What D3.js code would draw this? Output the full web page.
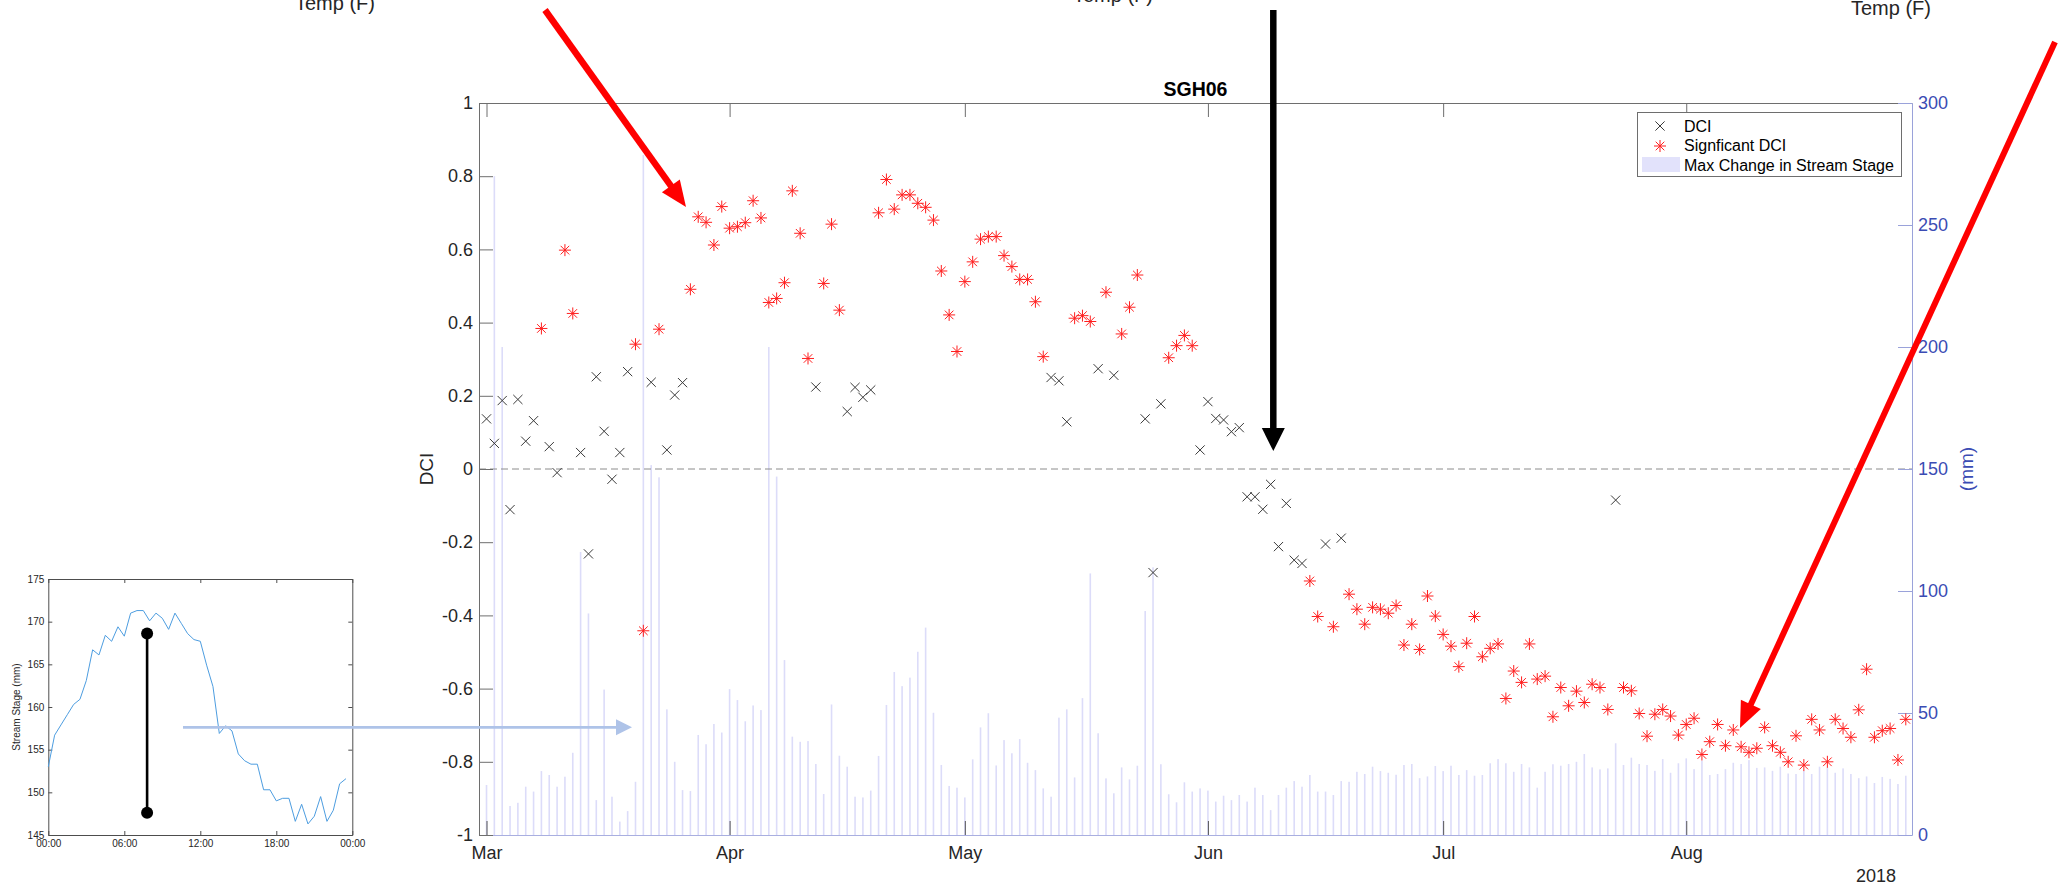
<!DOCTYPE html>
<html>
<head>
<meta charset="utf-8">
<script src="https://cdn.jsdelivr.net/npm/d3@7"></script>
<style>
  body { margin: 0; background: #fff; overflow: hidden; }
</style>
</head>
<body>
<script>
// ---- data ----
const startDate = '2018-03-01';

// daily DCI value, Mar 1 .. Aug 29
const dciValues = [
  0.137, 0.070, 0.187, -0.111, 0.190, 0.076, 0.132, 0.384, 0.061, -0.010,
  0.598, 0.425, 0.045, -0.232, 0.252, 0.103, -0.028, 0.045, 0.266, 0.341,
  -0.442, 0.237, 0.382, 0.052, 0.202, 0.236, 0.491, 0.689, 0.674, 0.612,
  0.717, 0.658, 0.662, 0.673, 0.733, 0.686, 0.455, 0.466, 0.509, 0.760,
  0.644, 0.302, 0.224, 0.507, 0.669, 0.434, 0.157, 0.223, 0.196, 0.216,
  0.700, 0.791, 0.710, 0.749, 0.749, 0.726, 0.715, 0.680, 0.541, 0.421,
  0.321, 0.512, 0.566, 0.628, 0.635, 0.635, 0.583, 0.553, 0.518, 0.518,
  0.457, 0.307, 0.250, 0.241, 0.129, 0.412, 0.419, 0.403, 0.274, 0.483,
  0.256, 0.369, 0.442, 0.530, 0.137, -0.283, 0.178, 0.304, 0.337, 0.365,
  0.337, 0.052, 0.184, 0.138, 0.134, 0.102, 0.113, -0.076, -0.076, -0.110,
  -0.042, -0.212, -0.094, -0.249, -0.258, -0.306, -0.403, -0.205, -0.431, -0.189,
  -0.342, -0.383, -0.424, -0.378, -0.383, -0.394, -0.373, -0.481, -0.424, -0.493,
  -0.347, -0.402, -0.452, -0.484, -0.540, -0.476, -0.403, -0.513, -0.490, -0.478,
  -0.627, -0.552, -0.583, -0.478, -0.574, -0.566, -0.677, -0.597, -0.647, -0.607,
  -0.638, -0.588, -0.597, -0.657, -0.085, -0.597, -0.606, -0.668, -0.730, -0.670,
  -0.657, -0.675, -0.727, -0.698, -0.681, -0.780, -0.745, -0.698, -0.756, -0.713,
  -0.759, -0.774, -0.763, -0.706, -0.756, -0.774, -0.800, -0.729, -0.809, -0.684,
  -0.713, -0.800, -0.684, -0.709, -0.733, -0.658, -0.547, -0.733, -0.715, -0.709,
  -0.795, -0.684
];

// 1 = significant DCI
const dciSignificant = [
  0, 0, 0, 0, 0, 0, 0, 1, 0, 0,
  1, 1, 0, 0, 0, 0, 0, 0, 0, 1,
  1, 0, 1, 0, 0, 0, 1, 1, 1, 1,
  1, 1, 1, 1, 1, 1, 1, 1, 1, 1,
  1, 1, 0, 1, 1, 1, 0, 0, 0, 0,
  1, 1, 1, 1, 1, 1, 1, 1, 1, 1,
  1, 1, 1, 1, 1, 1, 1, 1, 1, 1,
  1, 1, 0, 0, 0, 1, 1, 1, 0, 1,
  0, 1, 1, 1, 0, 0, 0, 1, 1, 1,
  1, 0, 0, 0, 0, 0, 0, 0, 0, 0,
  0, 0, 0, 0, 0, 1, 1, 0, 1, 0,
  1, 1, 1, 1, 1, 1, 1, 1, 1, 1,
  1, 1, 1, 1, 1, 1, 1, 1, 1, 1,
  1, 1, 1, 1, 1, 1, 1, 1, 1, 1,
  1, 1, 1, 1, 0, 1, 1, 1, 1, 1,
  1, 1, 1, 1, 1, 1, 1, 1, 1, 1,
  1, 1, 1, 1, 1, 1, 1, 1, 1, 1,
  1, 1, 1, 1, 1, 1, 1, 1, 1, 1,
  1, 1
];

// daily max change in stream stage (mm)
const stageChange = [
  20.5, 270, 200, 11.9, 13.2, 19.8, 17.8, 26.2, 24.6, 19.8,
  23.9, 33.7, 116, 90.8, 14.3, 59.6, 15.7, 5.5, 9.8, 21.8,
  278.7, 151.6, 146.6, 51.5, 30, 18.4, 18, 41, 37.2, 45.5,
  42, 59.8, 55.3, 46.6, 53.1, 51.2, 200, 146.9, 71.7, 40.3,
  38.2, 38.5, 29.1, 16.8, 53.5, 32.5, 28, 15.7, 15.4, 18.2,
  32.4, 53.3, 66.8, 61, 64.5, 75.1, 85, 50.1, 28.7, 20.1,
  19.4, 15.4, 31, 44.1, 49.9, 28.5, 38.9, 33.5, 39.3, 29.6,
  26.6, 19.1, 15.7, 48.1, 51.5, 23.6, 56.1, 107.2, 41.7, 23.2,
  17.1, 27.7, 22.8, 28.4, 91.8, 109.7, 29, 16.7, 13.4, 21.6,
  17.8, 19.1, 18.2, 13.7, 16.1, 14.3, 16.4, 13.7, 19.4, 16.4,
  10.2, 16.4, 19.4, 22.1, 19.8, 24.6, 17.8, 17.8, 16.4, 22.1,
  21.8, 25.9, 25, 28, 26.2, 25.5, 24.7, 28.7, 29.1, 23.3,
  24, 28.3, 26.2, 28.4, 24.6, 26.6, 24.3, 24.6, 29.4, 31.1,
  29.4, 25.9, 29.1, 27.7, 19.4, 25.9, 29, 28.4, 29.1, 30,
  33.2, 27.7, 26.9, 27.3, 37.6, 28.7, 31.7, 29.1, 28.7, 26.3,
  31.1, 25.5, 29.4, 31.4, 27, 30.5, 24.6, 25, 27, 29.6,
  29.1, 30.7, 27.5, 27.7, 26.3, 28, 25.2, 25, 26.3, 25,
  28, 27.7, 25.5, 27.3, 25, 23.3, 24, 21.3, 23.8, 23,
  20.9, 24.3
];

const dciTicks = [-1, -0.8, -0.6, -0.4, -0.2, 0, 0.2, 0.4, 0.6, 0.8, 1];
const mmTicks = [0, 50, 100, 150, 200, 250, 300];
const monthTicks = ['2018-03-01', '2018-04-01', '2018-05-01', '2018-06-01', '2018-07-01', '2018-08-01'];
const legendLabels = ['DCI', 'Signficant DCI', 'Max Change in Stream Stage'];

// inset: one day of stream stage, every 30 min
const insetHours = [
  0, 0.5, 1, 1.5, 2, 2.5, 3, 3.5, 4, 4.5, 5, 5.5, 6, 6.5, 7, 7.5, 8, 8.5, 9, 9.5,
  10, 10.5, 11, 11.5, 12, 12.5, 13, 13.5, 14, 14.5, 15, 15.5, 16, 16.5, 17, 17.5,
  18, 18.5, 19, 19.5, 20, 20.5, 21, 21.5, 22, 22.5, 23, 23.5
];
const insetStage = [
  153.0, 156.7, 157.9, 159.1, 160.3, 160.9, 163.1, 166.7, 166.1, 168.4,
  167.7, 169.4, 168.3, 171.0, 171.3, 171.3, 170.1, 171.0, 170.4, 169.1,
  171.0, 169.8, 168.6, 167.9, 167.7, 164.9, 162.4, 156.9, 157.8, 157.2,
  154.5, 153.7, 153.3, 153.3, 150.3, 150.3, 149.0, 149.3, 149.3, 146.6,
  148.6, 146.3, 147.2, 149.5, 146.6, 147.9, 151.0, 151.6
];
const insetYTicks = [145, 150, 155, 160, 165, 170, 175];
const insetXTicks = [0, 6, 12, 18, 24];
const rangeMark = { hour: 7.8, low: 147.6, high: 168.6 };

// ---- drawing ----
const FONT = '"Liberation Sans", Arial, Helvetica, sans-serif';
const svg = d3.select('body').append('svg')
  .attr('width', 2067)
  .attr('height', 887)
  .attr('font-family', FONT);

const box = { left: 479, right: 1912, top: 103, bottom: 835 };

const start = d3.utcParse('%Y-%m-%d')(startDate);
const days = dciValues.map((v, i) => d3.utcDay.offset(start, i));

const x = d3.scaleUtc()
  .domain([d3.utcHour.offset(start, -22.3), d3.utcHour.offset(start, 181.83 * 24)])
  .range([box.left, box.right]);
const y = d3.scaleLinear().domain([-1, 1]).range([box.bottom, box.top]);
const yR = d3.scaleLinear().domain([0, 300]).range([box.bottom, box.top]);

// cut-off labels of the panels above
[[335, 10], [1113, 1.5], [1891, 14.5]].forEach(p => {
  svg.append('text').attr('x', p[0]).attr('y', p[1])
    .attr('text-anchor', 'middle').attr('font-size', 20).attr('fill', '#262626')
    .text('Temp (F)');
});

// bars (right axis)
svg.append('g').selectAll('rect')
  .data(stageChange)
  .join('rect')
  .attr('x', (d, i) => x(days[i]) - 0.8)
  .attr('width', 1.6)
  .attr('y', d => yR(d))
  .attr('height', d => box.bottom - yR(d))
  .attr('fill', '#dcdcf9');

// zero line
svg.append('line')
  .attr('x1', box.left).attr('x2', box.right)
  .attr('y1', y(0)).attr('y2', y(0))
  .attr('stroke', '#8c8c8c').attr('stroke-dasharray', '7,4');

// axes
function styleAxis(g, line, text, size) {
  g.attr('font-family', FONT).attr('font-size', size);
  g.selectAll('.domain').attr('stroke', line);
  g.selectAll('.tick line').attr('stroke', line);
  g.selectAll('.tick text').attr('fill', text);
}
const monthDates = monthTicks.map(d3.utcParse('%Y-%m-%d'));

const gTop = svg.append('g').attr('transform', `translate(0,${box.top})`)
  .call(d3.axisTop(x).tickValues(monthDates).tickFormat('').tickSize(-14).tickSizeOuter(0));
styleAxis(gTop, '#6e6e6e', '#262626', 18);

const gBottom = svg.append('g').attr('transform', `translate(0,${box.bottom})`)
  .call(d3.axisBottom(x).tickValues(monthDates).tickFormat(d3.utcFormat('%b'))
    .tickSize(-14).tickSizeOuter(0).tickPadding(11));
styleAxis(gBottom, '#555', '#262626', 18);
gBottom.select('.domain').attr('stroke', '#a9afe0');

const gLeft = svg.append('g').attr('transform', `translate(${box.left},0)`)
  .call(d3.axisLeft(y).tickValues(dciTicks).tickFormat(d => String(+d.toFixed(1)))
    .tickSize(-14).tickSizeOuter(0).tickPadding(6));
styleAxis(gLeft, '#6e6e6e', '#262626', 18);

const gRight = svg.append('g').attr('transform', `translate(${box.right},0)`)
  .call(d3.axisRight(yR).tickValues(mmTicks).tickSize(-14).tickSizeOuter(0).tickPadding(6));
styleAxis(gRight, '#9aa2da', '#3b4cb4', 18);

svg.append('text').attr('x', 1876).attr('y', 882).attr('text-anchor', 'middle')
  .attr('font-size', 18).attr('fill', '#262626').text('2018');

svg.append('text').attr('transform', `translate(433,${y(0)}) rotate(-90)`)
  .attr('text-anchor', 'middle').attr('font-size', 19).attr('fill', '#262626').text('DCI');
svg.append('text').attr('transform', `translate(1973,${y(0)}) rotate(-90)`)
  .attr('text-anchor', 'middle').attr('font-size', 19).attr('fill', '#3b4cb4').text('(mm)');

svg.append('text').attr('x', (box.left + box.right) / 2).attr('y', 96)
  .attr('text-anchor', 'middle').attr('font-size', 19.5).attr('font-weight', 'bold')
  .attr('fill', '#000').text('SGH06');

// markers
const xMark = 'M-4.6,-4.6L4.6,4.6M-4.6,4.6L4.6,-4.6';
const starMark = 'M-6,0H6M0,-6V6M-4.3,-4.3L4.3,4.3M-4.3,4.3L4.3,-4.3';
const pts = dciValues.map((v, i) => ({ date: days[i], v, sig: dciSignificant[i] }));

svg.append('g').selectAll('path')
  .data(pts.filter(p => !p.sig))
  .join('path')
  .attr('transform', p => `translate(${x(p.date)},${y(p.v)})`)
  .attr('d', xMark).attr('fill', 'none').attr('stroke', '#3a3a3a').attr('stroke-width', 1);

svg.append('g').selectAll('path')
  .data(pts.filter(p => p.sig))
  .join('path')
  .attr('transform', p => `translate(${x(p.date)},${y(p.v)})`)
  .attr('d', starMark).attr('fill', 'none').attr('stroke', '#ff1f1f').attr('stroke-width', 1);

// legend
const lg = svg.append('g');
lg.append('rect').attr('x', 1637.5).attr('y', 112.5).attr('width', 264).attr('height', 64)
  .attr('fill', '#fff').attr('stroke', '#6e6e6e');
lg.append('path').attr('transform', 'translate(1660,126)').attr('d', xMark)
  .attr('fill', 'none').attr('stroke', '#3a3a3a');
lg.append('path').attr('transform', 'translate(1660,146)').attr('d', starMark)
  .attr('fill', 'none').attr('stroke', '#ff1f1f');
lg.append('rect').attr('x', 1642).attr('y', 157).attr('width', 38).attr('height', 15)
  .attr('fill', '#e2e2fb');
legendLabels.forEach((t, i) => {
  lg.append('text').attr('x', 1684).attr('y', 131.5 + i * 19.7)
    .attr('font-size', 16).attr('fill', '#000').text(t);
});

// inset chart
const ib = { left: 48.3, right: 352.3, top: 579, bottom: 835 };
const ix = d3.scaleLinear().domain([0, 24]).range([ib.left, ib.right]);
const iy = d3.scaleLinear().domain([145, 175]).range([ib.bottom, ib.top]);
const hh = h => String(h % 24).padStart(2, '0') + ':00';

const inset = svg.append('g');
const gib = inset.append('g').attr('transform', `translate(0,${ib.bottom})`)
  .call(d3.axisBottom(ix).tickValues(insetXTicks).tickFormat(hh).tickSize(-4).tickSizeOuter(0).tickPadding(5));
const git = inset.append('g').attr('transform', `translate(0,${ib.top})`)
  .call(d3.axisTop(ix).tickValues(insetXTicks).tickFormat('').tickSize(-4).tickSizeOuter(0));
const gil = inset.append('g').attr('transform', `translate(${ib.left},0)`)
  .call(d3.axisLeft(iy).tickValues(insetYTicks).tickSize(-4).tickSizeOuter(0).tickPadding(4));
const gir = inset.append('g').attr('transform', `translate(${ib.right},0)`)
  .call(d3.axisRight(iy).tickValues(insetYTicks).tickFormat('').tickSize(-4).tickSizeOuter(0));
[gib, git, gil, gir].forEach(g => styleAxis(g, '#4d4d4d', '#262626', 10));

inset.append('text').attr('transform', `translate(20,${(ib.top + ib.bottom) / 2}) rotate(-90)`)
  .attr('text-anchor', 'middle').attr('font-size', 10).attr('fill', '#262626')
  .text('Stream Stage (mm)');

inset.append('path')
  .datum(insetHours.map((h, i) => [h, insetStage[i]]))
  .attr('d', d3.line().x(d => ix(d[0])).y(d => iy(d[1])))
  .attr('fill', 'none').attr('stroke', '#4d9de0').attr('stroke-width', 1);

inset.append('line')
  .attr('x1', ix(rangeMark.hour)).attr('x2', ix(rangeMark.hour))
  .attr('y1', iy(rangeMark.low)).attr('y2', iy(rangeMark.high))
  .attr('stroke', '#000').attr('stroke-width', 2.6);
inset.selectAll('circle').data([rangeMark.low, rangeMark.high]).join('circle')
  .attr('cx', ix(rangeMark.hour)).attr('cy', d => iy(d)).attr('r', 6).attr('fill', '#000');

// annotation arrows
function arrow(x1, y1, x2, y2, w, headLen, headW, color) {
  const dx = x2 - x1, dy = y2 - y1, L = Math.hypot(dx, dy);
  const ux = dx / L, uy = dy / L, px = -uy, py = ux;
  const bx = x2 - ux * headLen, by = y2 - uy * headLen;
  svg.append('line').attr('x1', x1).attr('y1', y1).attr('x2', bx + ux).attr('y2', by + uy)
    .attr('stroke', color).attr('stroke-width', w);
  svg.append('path')
    .attr('d', `M${x2},${y2}L${bx + px * headW / 2},${by + py * headW / 2}L${bx - px * headW / 2},${by - py * headW / 2}Z`)
    .attr('fill', color);
}
arrow(183, 727.3, 632, 727.3, 2.7, 16, 16, '#aec3e8');
arrow(545, 10, 686, 207, 6.5, 26, 22, '#ff0000');
arrow(1273.3, 10, 1273.3, 451, 6.5, 23, 23, '#000');
arrow(2055, 42, 1740, 728, 6, 26, 22, '#ff0000');
</script>
</body>
</html>
